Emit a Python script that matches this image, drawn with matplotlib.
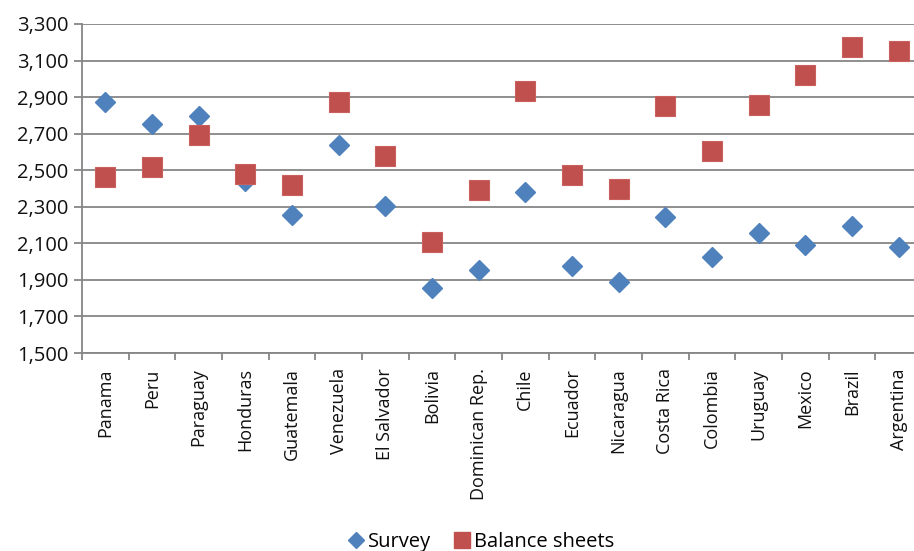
import matplotlib
matplotlib.use("Agg")
import matplotlib.pyplot as plt
import numpy as np
from matplotlib.lines import Line2D

plt.rcParams['font.family'] = ['Open Sans', 'DejaVu Sans']

countries = ["Panama", "Peru", "Paraguay", "Honduras", "Guatemala", "Venezuela",
             "El Salvador", "Bolivia", "Dominican Rep.", "Chile", "Ecuador",
             "Nicaragua", "Costa Rica", "Colombia", "Uruguay", "Mexico",
             "Brazil", "Argentina"]
survey = [2875, 2753, 2795, 2443, 2255, 2636, 2306, 1854, 1952, 2379, 1978,
          1888, 2246, 2027, 2157, 2093, 2195, 2078]
balance_sheets = [2463, 2518, 2694, 2479, 2417, 2875, 2576, 2107, 2394, 2935,
                  2474, 2397, 2853, 2607, 2855, 3019, 3174, 3150]
y_ticks = [1500, 1700, 1900, 2100, 2300, 2500, 2700, 2900, 3100, 3300]

blue = "#4F81BD"
red = "#C0504D"
grey = "#868686"

fig = plt.figure(figsize=(9.14, 5.51), dpi=100)
ax = fig.add_axes([82 / 914, 1 - 353 / 551, 840 / 914, (353 - 24) / 551])

x = np.arange(len(countries))
ax.plot(x, survey, linestyle="none", marker="D", markersize=10,
        color=blue, markeredgecolor=blue, zorder=3, clip_on=False)
ax.plot(x, balance_sheets, linestyle="none", marker="s", markersize=14,
        color=red, markeredgecolor="#C9605D", markeredgewidth=0.8,
        zorder=3, clip_on=False)

ax.set_xlim(-0.5, len(countries) - 0.5)
ax.set_ylim(y_ticks[0], y_ticks[-1])
ax.set_yticks(y_ticks)
ax.set_yticklabels([f"{v:,}" for v in y_ticks], fontsize=14.5, color="#111111")

# category labels at centres, tick marks at category boundaries
ax.set_xticks(x)
ax.set_xticklabels(countries, rotation=90, fontsize=13, color="#111111")
ax.tick_params(axis="x", which="major", length=0, pad=11)
ax.set_xticks(np.arange(-0.5, len(countries), 1.0), minor=True)
ax.tick_params(axis="x", which="minor", length=5, width=1.3, color=grey,
               direction="out")
ax.tick_params(axis="y", length=6, width=1.3, color=grey, direction="out", pad=4)

ax.grid(axis="y", color=grey, linewidth=1.3, zorder=0)
ax.set_axisbelow(True)
for side in ("top", "right"):
    ax.spines[side].set_visible(False)
for side in ("left", "bottom"):
    ax.spines[side].set_color(grey)
    ax.spines[side].set_linewidth(1.3)

handles = [
    Line2D([], [], linestyle="none", marker="D", markersize=8, color=blue),
    Line2D([], [], linestyle="none", marker="s", markersize=12, color=red),
]
fig.legend(handles, ["Survey", "Balance sheets"], loc="center",
           bbox_to_anchor=(482 / 914, 1 - 542 / 551), ncol=2, frameon=False,
           fontsize=14.5, handlelength=0.6, handletextpad=0.3, columnspacing=1.2)

fig.savefig("out.png", dpi=100)
